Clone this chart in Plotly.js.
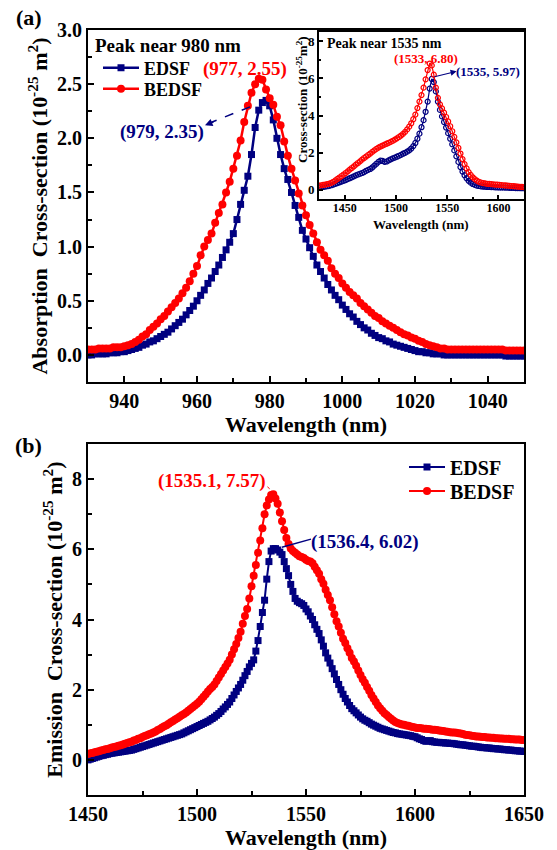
<!DOCTYPE html>
<html><head><meta charset="utf-8">
<script src="https://cdn.plot.ly/plotly-3.0.1.min.js"></script>
<style>html,body{margin:0;padding:0;background:#fff;} #chart{width:557px;height:850px;}</style>
</head><body><div id="chart"></div>
<script>
// ---------- (a) absorption, 930..1050 nm, 1 nm step ----------
const absStart = 930, absEnd = 1050, absStep = 1;
const absEDSF = [
0.00,0.00,0.01,0.01,0.01,0.01,0.02,0.02,0.02,0.03,
0.03,0.04,0.05,0.06,0.07,0.09,0.10,0.12,0.13,0.15,
0.17,0.19,0.21,0.24,0.27,0.30,0.33,0.37,0.41,0.45,
0.50,0.55,0.60,0.66,0.71,0.77,0.83,0.90,0.97,1.04,
1.12,1.25,1.39,1.52,1.65,1.85,2.10,2.26,2.33,2.35,
2.30,2.17,2.00,1.85,1.72,1.62,1.50,1.38,1.27,1.15,
1.07,0.99,0.91,0.83,0.77,0.71,0.65,0.60,0.55,0.51,
0.46,0.42,0.38,0.35,0.31,0.28,0.25,0.23,0.20,0.18,
0.16,0.15,0.13,0.12,0.10,0.09,0.08,0.07,0.06,0.05,
0.04,0.03,0.03,0.02,0.02,0.01,0.01,0.01,0.00,0.00,
0.00,0.00,0.00,0.00,0.00,0.00,0.00,0.00,0.00,0.00,
0.00,0.00,0.00,0.00,0.00,-0.01,-0.01,-0.01,-0.01,-0.01,
-0.01];
const absBEDSF = [
0.05,0.05,0.05,0.06,0.06,0.06,0.06,0.07,0.07,0.07,
0.08,0.09,0.10,0.12,0.14,0.17,0.19,0.23,0.26,0.29,
0.33,0.36,0.40,0.44,0.48,0.52,0.57,0.62,0.68,0.75,
0.82,0.92,1.00,1.06,1.12,1.22,1.31,1.39,1.50,1.60,
1.72,1.84,1.98,2.15,2.30,2.42,2.50,2.55,2.54,2.45,
2.37,2.31,2.20,2.12,1.97,1.84,1.72,1.61,1.49,1.38,
1.29,1.20,1.12,1.04,0.97,0.92,0.87,0.80,0.75,0.71,
0.66,0.62,0.58,0.55,0.52,0.48,0.45,0.42,0.39,0.36,
0.34,0.31,0.29,0.27,0.25,0.23,0.21,0.19,0.18,0.16,
0.15,0.13,0.12,0.10,0.09,0.08,0.07,0.06,0.06,0.05,
0.05,0.05,0.05,0.05,0.05,0.05,0.05,0.05,0.05,0.05,
0.05,0.05,0.05,0.05,0.05,0.04,0.04,0.04,0.04,0.04,
0.04];

// ---------- inset, 1425..1625 nm, 2 nm step ----------
const insStart = 1425, insEnd = 1625, insStep = 2;
const insEDSF = [
0.12,0.14,0.15,0.17,0.19,0.21,0.24,0.28,0.32,0.36,
0.40,0.44,0.48,0.52,0.57,0.62,0.67,0.72,0.77,0.82,
0.86,0.90,0.95,1.02,1.07,1.12,1.20,1.30,1.40,1.50,
1.57,1.55,1.50,1.52,1.58,1.64,1.69,1.73,1.78,1.83,
1.88,1.94,1.99,2.05,2.12,2.22,2.35,2.52,2.75,3.02,
3.37,3.75,4.20,4.75,5.45,5.97,5.80,5.30,4.75,4.30,
3.95,3.65,3.35,3.05,2.75,2.45,2.12,1.80,1.50,1.22,
0.98,0.78,0.62,0.48,0.38,0.31,0.26,0.22,0.20,0.18,
0.17,0.16,0.15,0.15,0.14,0.14,0.13,0.13,0.12,0.12,
0.12,0.11,0.11,0.10,0.10,0.10,0.09,0.09,0.09,0.08,
0.08];
const insBEDSF = [
0.22,0.24,0.26,0.28,0.30,0.33,0.37,0.43,0.50,0.58,
0.66,0.74,0.82,0.90,0.99,1.08,1.17,1.26,1.35,1.44,
1.53,1.62,1.71,1.79,1.87,1.95,2.04,2.12,2.20,2.27,
2.33,2.38,2.43,2.48,2.53,2.58,2.64,2.70,2.77,2.84,
2.92,3.01,3.12,3.25,3.40,3.58,3.80,4.05,4.40,4.75,
5.10,5.50,5.95,6.45,6.80,6.70,6.20,5.50,4.95,4.60,
4.38,4.15,3.92,3.68,3.42,3.15,2.85,2.55,2.25,1.95,
1.65,1.38,1.15,0.95,0.80,0.67,0.57,0.49,0.43,0.39,
0.36,0.34,0.32,0.31,0.30,0.29,0.28,0.27,0.26,0.25,
0.24,0.23,0.22,0.21,0.20,0.19,0.18,0.17,0.16,0.15,
0.14];

// ---------- (b) emission, 1450..1650 nm, 1 nm step ----------
const emStart = 1450, emEnd = 1650, emStep = 1;
const emEDSF = [
0.00,0.02,0.04,0.06,0.08,0.10,0.12,0.13,0.15,0.16,
0.18,0.19,0.20,0.21,0.22,0.23,0.24,0.25,0.26,0.27,
0.28,0.30,0.32,0.34,0.36,0.38,0.40,0.42,0.44,0.46,
0.48,0.50,0.52,0.54,0.56,0.58,0.60,0.62,0.64,0.66,
0.68,0.70,0.72,0.74,0.77,0.80,0.83,0.86,0.89,0.92,
0.95,0.98,1.01,1.04,1.07,1.10,1.14,1.18,1.22,1.27,
1.32,1.38,1.45,1.51,1.58,1.65,1.75,1.85,1.95,2.05,
2.15,2.27,2.40,2.52,2.65,2.75,2.85,3.10,3.40,3.80,
4.20,4.55,5.15,5.65,5.95,6.02,6.02,5.98,5.92,5.85,
5.65,5.45,5.25,5.00,4.80,4.60,4.52,4.48,4.45,4.40,
4.30,4.22,4.10,4.00,3.85,3.72,3.60,3.42,3.24,3.05,
2.90,2.76,2.60,2.45,2.29,2.15,2.00,1.87,1.75,1.65,
1.55,1.46,1.40,1.34,1.28,1.22,1.17,1.13,1.10,1.06,
1.02,0.99,0.96,0.93,0.90,0.88,0.86,0.84,0.82,0.80,
0.78,0.77,0.75,0.74,0.73,0.72,0.71,0.70,0.69,0.67,
0.66,0.63,0.60,0.58,0.55,0.53,0.54,0.55,0.52,0.51,
0.50,0.50,0.49,0.49,0.48,0.48,0.47,0.47,0.46,0.45,
0.44,0.43,0.43,0.42,0.41,0.40,0.39,0.39,0.38,0.37,
0.36,0.35,0.35,0.34,0.34,0.33,0.32,0.32,0.31,0.31,
0.30,0.29,0.29,0.28,0.28,0.27,0.26,0.26,0.25,0.25,
0.24];
const emBEDSF = [
0.17,0.19,0.20,0.22,0.23,0.25,0.27,0.28,0.30,0.31,
0.33,0.35,0.37,0.38,0.40,0.42,0.44,0.46,0.48,0.50,
0.52,0.55,0.57,0.60,0.62,0.65,0.68,0.70,0.73,0.75,
0.78,0.81,0.85,0.88,0.92,0.96,0.99,1.03,1.07,1.11,
1.15,1.19,1.23,1.27,1.31,1.35,1.40,1.45,1.50,1.55,
1.60,1.66,1.73,1.80,1.87,1.95,2.02,2.08,2.15,2.25,
2.35,2.45,2.55,2.65,2.75,2.85,3.00,3.15,3.30,3.47,
3.65,3.88,4.10,4.30,4.60,4.95,5.25,5.55,5.90,6.25,
6.60,7.00,7.25,7.42,7.55,7.57,7.45,7.30,7.05,6.80,
6.55,6.32,6.15,6.02,5.95,5.90,5.85,5.80,5.78,5.75,
5.70,5.67,5.65,5.60,5.50,5.40,5.30,5.15,5.02,4.85,
4.70,4.55,4.35,4.15,3.95,3.80,3.62,3.45,3.33,3.18,
3.05,2.90,2.80,2.68,2.55,2.42,2.30,2.20,2.08,1.97,
1.85,1.75,1.65,1.55,1.47,1.40,1.33,1.28,1.22,1.17,
1.12,1.08,1.05,1.03,1.01,1.00,0.98,0.97,0.95,0.94,
0.92,0.91,0.91,0.90,0.89,0.89,0.88,0.87,0.86,0.86,
0.85,0.84,0.83,0.82,0.81,0.80,0.79,0.78,0.78,0.77,
0.76,0.75,0.74,0.72,0.71,0.70,0.69,0.68,0.67,0.67,
0.66,0.65,0.65,0.64,0.64,0.63,0.63,0.62,0.62,0.61,
0.61,0.60,0.60,0.60,0.59,0.59,0.58,0.58,0.58,0.57,
0.57];

const seriesNames = ['EDSF', 'BEDSF'];
const absTickVals = [0.0, 0.5, 1.0, 1.5, 2.0, 2.5, 3.0];

function grid(a, b, s) { const o = []; for (let v = a; v <= b + 1e-9; v += s) o.push(Math.round(v * 100) / 100); return o; }
const absWl = grid(absStart, absEnd, absStep);
const insWl = grid(insStart, insEnd, insStep);
const emWl = grid(emStart, emEnd, emStep);

const NAVY = '#000080', RED = '#FF0000';
const F = '"Liberation Serif", "Times New Roman", serif';
const W = 557, H = 850;
const px = v => v / W, py = v => 1 - v / H;

const traces = [
  {x: absWl, y: absEDSF, xaxis: 'x', yaxis: 'y', name: seriesNames[0], mode: 'lines+markers', legend: 'legend',
   line: {color: NAVY, width: 2.5}, marker: {symbol: 'square', size: 7, color: NAVY}},
  {x: absWl, y: absBEDSF, xaxis: 'x', yaxis: 'y', name: seriesNames[1], mode: 'lines+markers', legend: 'legend3',
   line: {color: RED, width: 2.5}, marker: {symbol: 'circle', size: 8, color: RED}},
  {x: emWl, y: emEDSF, xaxis: 'x2', yaxis: 'y2', name: seriesNames[0], mode: 'lines+markers', legend: 'legend2',
   line: {color: NAVY, width: 2}, marker: {symbol: 'square', size: 7, color: NAVY}},
  {x: emWl, y: emBEDSF, xaxis: 'x2', yaxis: 'y2', name: seriesNames[1], mode: 'lines+markers', legend: 'legend4',
   line: {color: RED, width: 2}, marker: {symbol: 'circle', size: 8, color: RED}},
  {x: insWl, y: insEDSF, xaxis: 'x3', yaxis: 'y3', showlegend: false, mode: 'lines+markers',
   line: {color: NAVY, width: 1.2}, marker: {symbol: 'circle-open', size: 5, color: NAVY, line: {width: 1.2}}},
  {x: insWl, y: insBEDSF, xaxis: 'x3', yaxis: 'y3', showlegend: false, mode: 'lines+markers',
   line: {color: RED, width: 1.2}, marker: {symbol: 'circle-open', size: 5, color: RED, line: {width: 1.2}}}
];

function ax(o, minorDtick, fs) {
  return Object.assign({
    showline: true, linecolor: 'black', linewidth: 2, mirror: true,
    ticks: 'inside', ticklen: 6, tickwidth: 2, tickcolor: 'black',
    showgrid: false, zeroline: false, fixedrange: true,
    tickfont: {family: F, size: fs, color: 'black', weight: 'bold'},
    minor: {dtick: minorDtick, ticks: 'inside', ticklen: 4, tickwidth: 2, tickcolor: 'black', showgrid: false}
  }, o);
}
const titleFont = {family: F, size: 22, color: 'black', weight: 'bold'};
function leg(xl, yc, fs) {
  return {x: px(xl), y: py(yc), xanchor: 'left', yanchor: 'middle', bgcolor: 'rgba(0,0,0,0)', itemwidth: 36,
    font: {family: F, size: fs, color: 'black', weight: 'bold'}, tracegroupgap: 0};
}

const layout = {
  width: W, height: H, margin: {l: 0, r: 0, t: 0, b: 0},
  paper_bgcolor: '#fff', plot_bgcolor: '#fff',
  xaxis: ax({domain: [px(88), px(524)], anchor: 'y', range: [930, 1050], dtick: 20, tick0: 940,
    title: {text: 'Wavelength (nm)', font: titleFont, standoff: 2}}, 10, 20),
  yaxis: ax({domain: [py(382), py(30)], anchor: 'x', range: [-0.25, 3.0], tickvals: absTickVals, tickformat: '.1f',
    title: {text: 'Absorption&nbsp; Cross-section (10<sup>-25</sup> m<sup>2</sup>)', font: titleFont, standoff: 3}}, 0.25, 20),
  xaxis2: ax({domain: [px(88), px(524)], anchor: 'y2', range: [1450, 1650], dtick: 50, tick0: 1450,
    title: {text: 'Wavelength (nm)', font: titleFont, standoff: 2}}, 25, 20),
  yaxis2: ax({domain: [py(795), py(444)], anchor: 'x2', range: [-1, 9], dtick: 2, tick0: 0,
    title: {text: 'Emission&nbsp; Cross-section (10<sup>-25</sup> m<sup>2</sup>)', font: titleFont, standoff: 3}}, 1, 20),
  xaxis3: ax({domain: [px(319), px(524)], anchor: 'y3', range: [1425, 1625], dtick: 50, tick0: 1450, ticklen: 4,
    ticklabelstandoff: -3,
    minor: {dtick: 25, ticks: 'inside', ticklen: 2, tickwidth: 1.5, tickcolor: 'black'}}, 25, 12),
  yaxis3: ax({domain: [py(199), py(32)], anchor: 'x3', range: [-0.5, 8.5], dtick: 2, tick0: 0, ticklen: 4,
    minor: {dtick: 1, ticks: 'inside', ticklen: 2, tickwidth: 1.5, tickcolor: 'black'}}, 1, 13),
  legend: leg(98, 68, 18),
  legend3: leg(98, 89, 18),
  legend2: leg(404, 467, 20),
  legend4: leg(404, 491, 20),
  shapes: [
    {type: 'line', xref: 'x', yref: 'y', x0: 974.6, y0: 2.29, x1: 962.6, y1: 2.13,
     line: {color: NAVY, width: 1.5, dash: 'dash'}},
    {type: 'line', xref: 'x2', yref: 'y2', x0: 1538.9, y0: 6.06, x1: 1552.3, y1: 6.29,
     line: {color: NAVY, width: 1.5}},
    {type: 'line', xref: 'x2', yref: 'y2', x0: 1532.3, y0: 7.78, x1: 1534.5, y1: 7.66,
     line: {color: RED, width: 1, dash: 'dot'}}
  ],
  annotations: [
    {xref: 'paper', yref: 'paper', x: px(29), y: py(18), xanchor: 'center', yanchor: 'middle',
     text: '<b>(a)</b>', showarrow: false, font: {family: F, size: 22, color: 'black'}},
    {xref: 'paper', yref: 'paper', x: px(28), y: py(446), xanchor: 'center', yanchor: 'middle',
     text: '<b>(b)</b>', showarrow: false, font: {family: F, size: 22, color: 'black'}},
    {xref: 'paper', yref: 'paper', x: px(93), y: py(45), xanchor: 'left', yanchor: 'middle',
     text: '<b>Peak near 980 nm</b>', showarrow: false, font: {family: F, size: 19, color: 'black'}},
    {xref: 'x', yref: 'y', x: 973.2, y: 2.64, xanchor: 'center', yanchor: 'middle', text: '<b>(977, 2.55)</b>', showarrow: false,
     font: {family: F, size: 19, color: RED}},
    {xref: 'x', yref: 'y', x: 950.4, y: 2.06, xanchor: 'center', yanchor: 'middle', text: '<b>(979, 2.35)</b>', showarrow: false,
     font: {family: F, size: 19, color: NAVY}},
    {xref: 'x', yref: 'y', x: 962.2, y: 2.12, ax: 10, ay: -4, text: '', showarrow: true,
     arrowhead: 2, arrowsize: 1, arrowwidth: 1.5, arrowcolor: NAVY},
    {xref: 'x2', yref: 'y2', x: 1506.9, y: 7.94, xanchor: 'center', yanchor: 'middle', text: '<b>(1535.1, 7.57)</b>', showarrow: false,
     font: {family: F, size: 19, color: RED}},
    {xref: 'x2', yref: 'y2', x: 1577.1, y: 6.2, xanchor: 'center', yanchor: 'middle', text: '<b>(1536.4, 6.02)</b>', showarrow: false,
     font: {family: F, size: 19, color: NAVY}},
    {xref: 'x3', yref: 'y3', x: 1430.9, y: 7.89, xanchor: 'left', yanchor: 'middle', text: '<b>Peak near 1535 nm</b>', showarrow: false,
     font: {family: F, size: 14, color: 'black'}},
    {xref: 'x3', yref: 'y3', x: 1529.6, y: 7.08, xanchor: 'center', yanchor: 'middle', text: '<b>(1533, 6.80)</b>', showarrow: false,
     font: {family: F, size: 13, color: RED}},
    {xref: 'x3', yref: 'y3', x: 1589.8, y: 6.38, xanchor: 'center', yanchor: 'middle', text: '<b>(1535, 5.97)</b>', showarrow: false,
     font: {family: F, size: 13, color: NAVY}},
    {xref: 'x3', yref: 'y3', axref: 'x3', ayref: 'y3', x: 1559.2, y: 6.38, ax: 1536.2, ay: 6.07, text: '',
     showarrow: true, arrowhead: 2, arrowsize: 1, arrowwidth: 1.2, arrowcolor: NAVY},
    {xref: 'paper', yref: 'paper', x: px(302), y: py(100), xanchor: 'center', yanchor: 'middle', textangle: -90,
     text: '<b>Cross-section (10<sup>-25</sup>m<sup>2</sup>)</b>', showarrow: false,
     font: {family: F, size: 13, color: 'black'}},
    {xref: 'paper', yref: 'paper', x: px(421), y: py(224), xanchor: 'center', yanchor: 'middle',
     text: '<b>Wavelength (nm)</b>', showarrow: false, font: {family: F, size: 13, color: 'black'}}
  ]
};

Plotly.newPlot('chart', traces, layout, {displayModeBar: false, staticPlot: true});
</script>
</body></html>
